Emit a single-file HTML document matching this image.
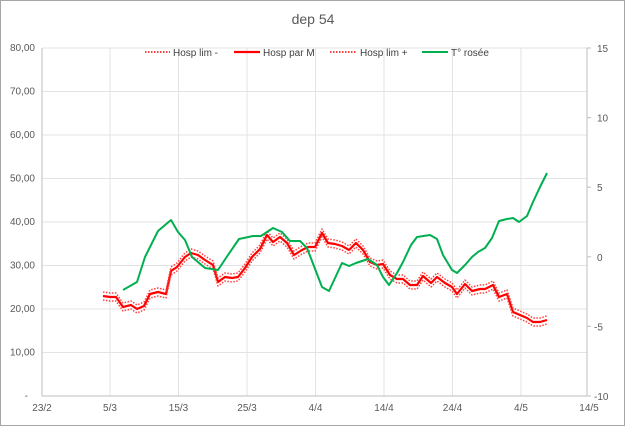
<!DOCTYPE html>
<html><head><meta charset="utf-8"><style>
html,body{margin:0;padding:0;background:#fff;}
svg{display:block;font-family:"Liberation Sans",sans-serif;}
</style></head><body>
<svg width="625" height="426" viewBox="0 0 625 426" xmlns="http://www.w3.org/2000/svg">
<rect x="0.5" y="0.5" width="624" height="425" fill="#fff" stroke="#a6a6a6"/>
<text x="313" y="24" font-size="14" fill="#595959" text-anchor="middle">dep  54</text>
<g stroke="#e3e3e3" stroke-width="1">
<line x1="42" y1="48" x2="587" y2="48"/><line x1="42" y1="91.5" x2="587" y2="91.5"/><line x1="42" y1="135" x2="587" y2="135"/><line x1="42" y1="178.5" x2="587" y2="178.5"/><line x1="42" y1="222" x2="587" y2="222"/><line x1="42" y1="265.5" x2="587" y2="265.5"/><line x1="42" y1="309" x2="587" y2="309"/><line x1="42" y1="352.5" x2="587" y2="352.5"/>
<line x1="110" y1="48" x2="110" y2="396"/><line x1="178.5" y1="48" x2="178.5" y2="396"/><line x1="247" y1="48" x2="247" y2="396"/><line x1="315.5" y1="48" x2="315.5" y2="396"/><line x1="384" y1="48" x2="384" y2="396"/><line x1="452.5" y1="48" x2="452.5" y2="396"/><line x1="521" y1="48" x2="521" y2="396"/>
</g>
<g stroke="#bfbfbf"><line x1="42" y1="48" x2="42" y2="396"/><line x1="42" y1="396" x2="587" y2="396"/><line x1="587" y1="48" x2="587" y2="396"/>
<line x1="587" y1="48" x2="591" y2="48"/><line x1="587" y1="117.6" x2="591" y2="117.6"/><line x1="587" y1="187.2" x2="591" y2="187.2"/><line x1="587" y1="256.8" x2="591" y2="256.8"/><line x1="587" y1="326.4" x2="591" y2="326.4"/><line x1="587" y1="396" x2="591" y2="396"/></g>
<g font-size="10" fill="#595959" text-anchor="end">
<text x="35" y="51">80,00</text><text x="35" y="94.5">70,00</text><text x="35" y="138">60,00</text><text x="35" y="181.5">50,00</text><text x="35" y="225">40,00</text><text x="35" y="268.5">30,00</text><text x="35" y="312">20,00</text><text x="35" y="355.5">10,00</text><text x="28" y="399">-</text>
</g>
<g font-size="10" fill="#595959" text-anchor="start">
<text x="597" y="52">15</text><text x="597" y="121.6">10</text><text x="597" y="191.2">5</text><text x="597" y="260.8">0</text><text x="594" y="330.4">-5</text><text x="594" y="400">-10</text>
</g>
<g font-size="10" fill="#595959" text-anchor="middle">
<text x="42" y="411">23/2</text><text x="110" y="411">5/3</text><text x="178.5" y="411">15/3</text><text x="247" y="411">25/3</text><text x="315.5" y="411">4/4</text><text x="384" y="411">14/4</text><text x="452.5" y="411">24/4</text><text x="521" y="411">4/5</text><text x="589" y="411">14/5</text>
</g>
<!-- legend -->
<g font-size="10" fill="#404040">
<line x1="145" y1="52" x2="170" y2="52" stroke="#ff0000" stroke-width="1.5" stroke-dasharray="1.5,1.5"/><text x="173" y="56">Hosp lim -</text>
<line x1="234" y1="52" x2="260" y2="52" stroke="#ff0000" stroke-width="2.2"/><text x="263" y="56">Hosp par M</text>
<line x1="330" y1="52" x2="356" y2="52" stroke="#ff0000" stroke-width="1.5" stroke-dasharray="1.5,1.5"/><text x="360" y="56">Hosp lim +</text>
<line x1="422" y1="52" x2="448" y2="52" stroke="#00b050" stroke-width="2"/><text x="451" y="56">T° rosée</text>
</g>
<g fill="none" stroke-linejoin="round">
<polyline id="m" stroke="#ff0000" stroke-width="2.2" points="103,296 110,297 116,297 123,307 131,305 137,309 144,306 150,294 158,292 166,294 171,271 177,267 185,257 191,253 198,255 205,260 213,265 218,282 225,277 232,278 238,277 245,268 252,257 260,249 267,235 273,242 280,237 287,243 294,255 302,250 308,247 315,247 322,233 328,243 335,244 342,246 349,250 356,243 363,250 370,262 377,265 383,264 390,275 397,279 403,279 410,285 417,285 423,276 431,283 437,277 445,283 452,287 457,294 465,284 472,291 480,289 485,289 493,285 499,297 507,294 513,312 520,315 527,318 533,322 540,322 547,320"/>
<polyline transform="translate(0,-4)" stroke="#ff4040" stroke-width="1.5" stroke-dasharray="1.5,1.5" points="103,296 110,297 116,297 123,307 131,305 137,309 144,306 150,294 158,292 166,294 171,271 177,267 185,257 191,253 198,255 205,260 213,265 218,282 225,277 232,278 238,277 245,268 252,257 260,249 267,235 273,242 280,237 287,243 294,255 302,250 308,247 315,247 322,233 328,243 335,244 342,246 349,250 356,243 363,250 370,262 377,265 383,264 390,275 397,279 403,279 410,285 417,285 423,276 431,283 437,277 445,283 452,287 457,294 465,284 472,291 480,289 485,289 493,285 499,297 507,294 513,312 520,315 527,318 533,322 540,322 547,320"/>
<polyline transform="translate(0,4)" stroke="#ff4040" stroke-width="1.5" stroke-dasharray="1.5,1.5" points="103,296 110,297 116,297 123,307 131,305 137,309 144,306 150,294 158,292 166,294 171,271 177,267 185,257 191,253 198,255 205,260 213,265 218,282 225,277 232,278 238,277 245,268 252,257 260,249 267,235 273,242 280,237 287,243 294,255 302,250 308,247 315,247 322,233 328,243 335,244 342,246 349,250 356,243 363,250 370,262 377,265 383,264 390,275 397,279 403,279 410,285 417,285 423,276 431,283 437,277 445,283 452,287 457,294 465,284 472,291 480,289 485,289 493,285 499,297 507,294 513,312 520,315 527,318 533,322 540,322 547,320"/>
<polyline stroke="#00b050" stroke-width="2" points="123,290 137,282 145,257 158,231 171,220 178,232 185,240 192,257 205,268 218,270 228,255 239,239 253,236 261,236 273,228 282,232 290,241 300,241 307,248 322,287 329,291 342,263 349,266 356,263 368,259 377,265 383,277 389,285 397,273 403,262 411,245 417,237 430,235 437,239 443,255 452,270 457,273 465,265 472,257 478,252 485,248 492,238 499,221 507,219 513,218 519,222 527,216 533,202 540,187 547,173"/>
</g>
</svg>
</body></html>
